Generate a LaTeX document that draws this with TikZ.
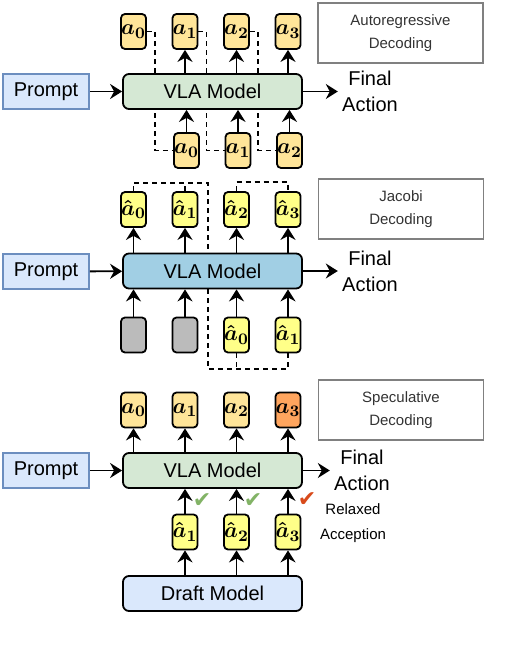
\documentclass[tikz,border=0pt]{standalone}
\usepackage{fontspec}
\setmainfont{Liberation Sans}
\newfontfamily\symfont{DejaVu Sans}
\usetikzlibrary{arrows.meta,backgrounds}

\definecolor{promptfill}{HTML}{DAE8FC}
\definecolor{promptline}{HTML}{6C8EBF}
\definecolor{vlagreen}{HTML}{D5E8D4}
\definecolor{vlablue}{HTML}{A1CFE4}
\definecolor{tokfill}{HTML}{FFE599}
\definecolor{hatfill}{HTML}{FFFF88}
\definecolor{lastfill}{HTML}{FFA55E}
\definecolor{padfill}{HTML}{BBBBBB}
\definecolor{okgreen}{HTML}{82B366}
\definecolor{badred}{HTML}{D84A1B}

\begin{document}
\begin{tikzpicture}[x=0.5pt,y=-0.5pt,
  tok/.style={draw, rounded corners=2pt, line width=0.9pt, minimum width=12.5pt, minimum height=17.5pt, inner sep=0pt, font=\fontsize{11}{12}\selectfont\boldmath},
  model/.style={draw, rounded corners=3pt, line width=0.9pt, minimum width=89.5pt, minimum height=17.5pt, font=\fontsize{10}{12}\selectfont},
  prompt/.style={draw=promptline, fill=promptfill, line width=0.9pt, minimum width=43pt, minimum height=17.5pt, font=\fontsize{10}{12}\selectfont},
  legend/.style={draw=black!50, line width=0.9pt, minimum width=82.5pt, minimum height=30pt, align=center, text=black!80, font=\fontsize{7.5}{11.5}\selectfont},
  final/.style={align=center, inner sep=2pt, font=\fontsize{10}{13}\selectfont},
  check/.style={font=\symfont\fontsize{11}{11}\selectfont, inner sep=0pt},
  arr/.style={-{Stealth[length=6pt,width=7.5pt,inset=2pt]}, line width=0.9pt},
  dashline/.style={dash pattern=on 2.5pt off 2pt, line width=0.8pt},
]
\useasboundingbox (0,0) rectangle (512,646);

% autoregressive decoding
\node[prompt] (p1) at (46,91.5) {Prompt};
\node[model, fill=vlagreen] (vla1) at (212.5,91.5) {VLA Model};
\node[final] (f1) at (370,91.5) {Final\\Action};
\node[legend] (l1) at (400.5,33) {Autoregressive\\Decoding};
\foreach \i/\x in {0/133.5,1/185,2/236.5,3/288}
  \node[tok, fill=tokfill] (t1\i) at (\x,31.5) {$a_\i$};
\foreach \i/\x in {0/186.5,1/238,2/289.5}
  \node[tok, fill=tokfill] (b1\i) at (\x,150.5) {$a_\i$};
\draw[arr] (p1) -- (vla1);
\draw[arr] (vla1) -- (f1);
\foreach \i in {1,2,3}
  \draw[arr] (t1\i.south |- vla1.north) -- (t1\i.south);
\foreach \i in {0,1,2}
  \draw[arr] (b1\i.north) -- (b1\i.north |- vla1.south);
\begin{scope}[on background layer]
  \foreach \i in {0,1,2}
    \draw[dashline] (t1\i.east) -- ++(8,0) |- (b1\i.west);
\end{scope}

% jacobi decoding
\node[prompt] (p2) at (46,271.5) {Prompt};
\node[model, fill=vlablue] (vla2) at (212.5,271) {VLA Model};
\node[final] (f2) at (370,271) {Final\\Action};
\node[legend] (l2) at (401,209) {Jacobi\\Decoding};
\foreach \i/\x in {0/133.5,1/185,2/236.5,3/288}
  \node[tok, fill=hatfill] (t2\i) at (\x,209.5) {$\hat{a}_\i$};
\node[tok, fill=padfill] (g20) at (133.5,335) {};
\node[tok, fill=padfill] (g21) at (185,335) {};
\node[tok, fill=hatfill] (b20) at (236.5,335) {$\hat{a}_0$};
\node[tok, fill=hatfill] (b21) at (288,335) {$\hat{a}_1$};
\draw[arr] (p2) -- (vla2);
\draw[arr] (vla2) -- (f2);
\foreach \i in {0,1,2,3}
  \draw[arr] (t2\i.south |- vla2.north) -- (t2\i.south);
\foreach \n in {g20,g21,b20,b21}
  \draw[arr] (\n.north) -- (\n.north |- vla2.south);
\coordinate (jt) at (208,183);
\coordinate (jb) at (208,369);
\begin{scope}[on background layer]
  \draw[dashline] (t20.north) |- (jt) -- (jb) -| (b21.south);
  \draw[dashline] (t21.north) -- (t21.north |- jt);
  \draw[dashline] (b20.south) -- (b20.south |- jb);
  \draw[dashline] (t22.north) -- ++(0,-9) -| (t23.north);
\end{scope}

% speculative decoding
\node[prompt] (p3) at (46,470.5) {Prompt};
\node[model, fill=vlagreen] (vla3) at (212.5,470.5) {VLA Model};
\node[final] (f3) at (362,470.5) {Final\\Action};
\node[legend] (l3) at (401,410) {Speculative\\Decoding};
\foreach \i/\x in {0/133.5,1/185,2/236.5}
  \node[tok, fill=tokfill] (t3\i) at (\x,410) {$a_\i$};
\node[tok, fill=lastfill] (t33) at (288,410) {$a_3$};
\foreach \i/\x in {1/185,2/236.5,3/288}
  \node[tok, fill=hatfill] (m3\i) at (\x,532) {$\hat{a}_\i$};
\node[model, fill=promptfill] (draft) at (212.5,593.5) {Draft Model};
\draw[arr] (p3) -- (vla3);
\draw[arr] (vla3) -- (f3);
\foreach \i in {0,1,2,3}
  \draw[arr] (t3\i.south |- vla3.north) -- (t3\i.south);
\foreach \i in {1,2,3} {
  \draw[arr] (m3\i.north) -- (m3\i.north |- vla3.south);
  \draw[arr] (m3\i.south |- draft.north) -- (m3\i.south);
}
\node[check, text=okgreen] (ok1) at (202,501) {✔};
\node[check, text=okgreen] (ok2) at (253,501) {✔};
\node[check, text=badred] (bad) at (307,500) {✔};
\node[final, font=\fontsize{7.5}{12.5}\selectfont] (relax) at (353,523.5) {Relaxed\\Acception};
\end{tikzpicture}
\end{document}
